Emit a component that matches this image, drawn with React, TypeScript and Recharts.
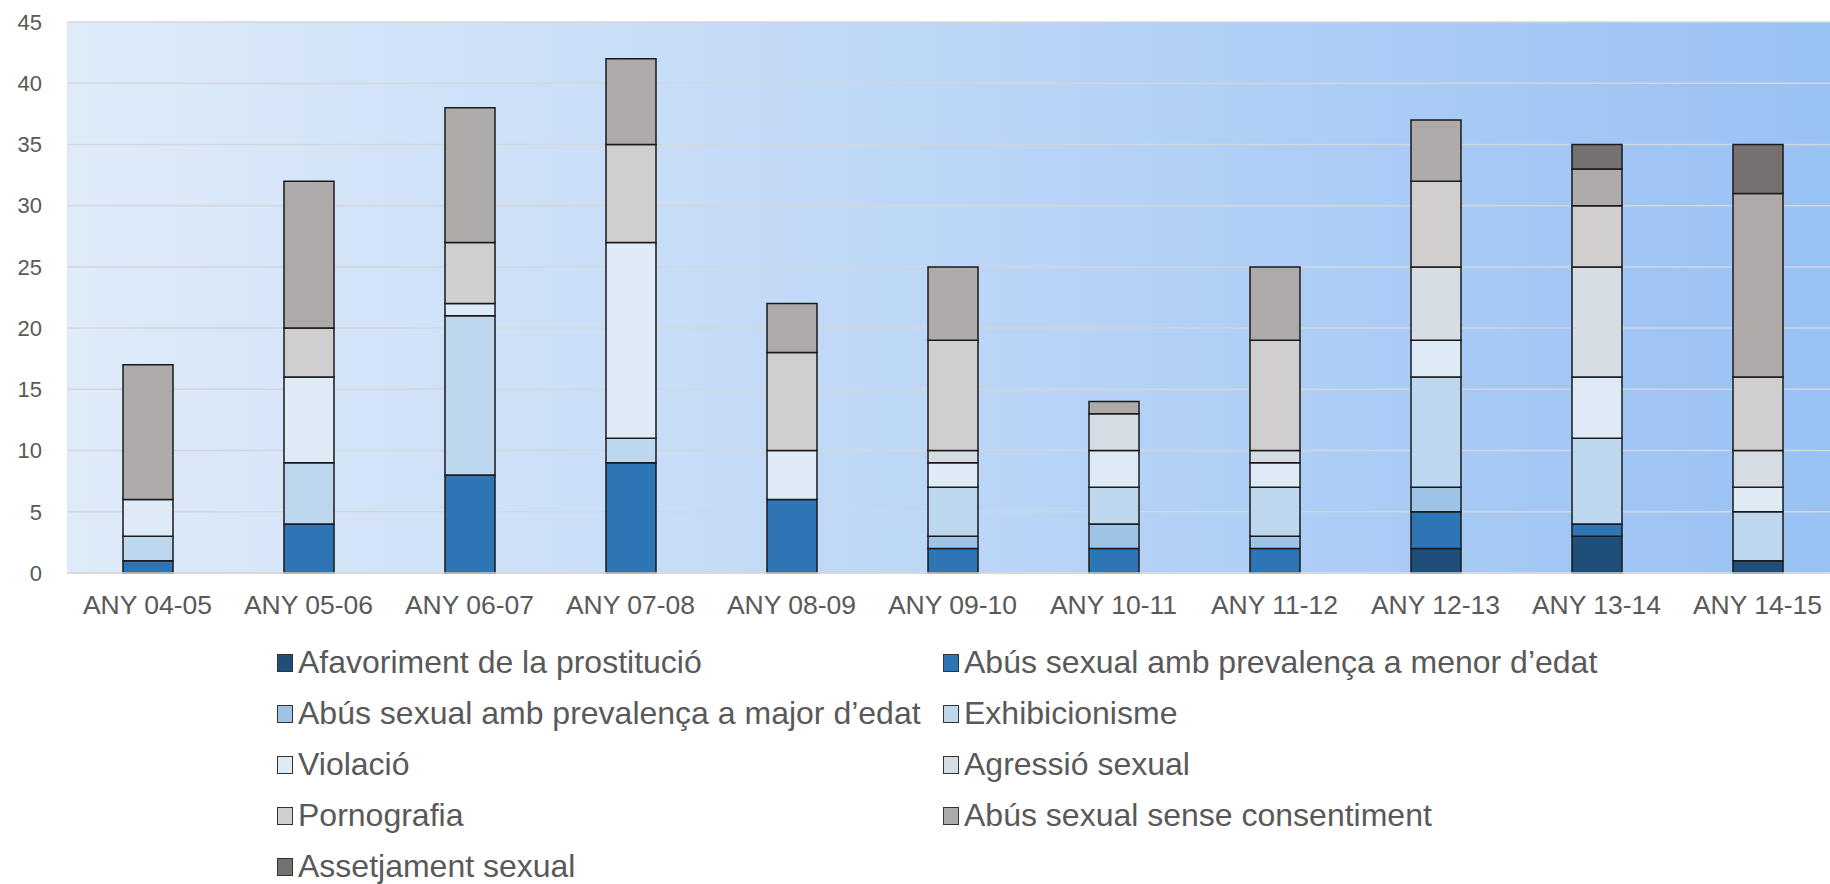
import React from 'react';
import { BarChart, Bar, XAxis, YAxis, CartesianGrid, Legend } from 'recharts';

const years = ['ANY 04-05', 'ANY 05-06', 'ANY 06-07', 'ANY 07-08', 'ANY 08-09', 'ANY 09-10', 'ANY 10-11', 'ANY 11-12', 'ANY 12-13', 'ANY 13-14', 'ANY 14-15'];

// one array per crime type, bottom of the stack first
const afavoriment = [0, 0, 0, 0, 0, 0, 0, 0, 2, 3, 1];
const abusMenor = [1, 4, 8, 9, 6, 2, 2, 2, 3, 1, 0];
const abusMajor = [0, 0, 0, 0, 0, 1, 2, 1, 2, 0, 0];
const exhibicionisme = [2, 5, 13, 2, 0, 4, 3, 4, 9, 7, 4];
const violacio = [3, 7, 1, 16, 4, 2, 3, 2, 3, 5, 2];
const agressio = [0, 0, 0, 0, 0, 1, 3, 1, 6, 9, 3];
const pornografia = [0, 4, 5, 8, 8, 9, 0, 9, 7, 5, 6];
const abusSense = [11, 12, 11, 7, 4, 6, 1, 6, 5, 3, 15];
const assetjament = [0, 0, 0, 0, 0, 0, 0, 0, 0, 2, 4];

const yTicks = [0, 5, 10, 15, 20, 25, 30, 35, 40, 45];

const series = [
    { key: 'afavoriment', name: 'Afavoriment de la prostitució', color: '#1F4E79', values: afavoriment },
    { key: 'abusMenor', name: 'Abús sexual amb prevalença a menor d’edat', color: '#2E75B6', values: abusMenor },
    { key: 'abusMajor', name: 'Abús sexual amb prevalença a major d’edat', color: '#9DC3E6', values: abusMajor },
    { key: 'exhibicionisme', name: 'Exhibicionisme', color: '#BDD7EE', values: exhibicionisme },
    { key: 'violacio', name: 'Violació', color: '#DEEBF7', values: violacio },
    { key: 'agressio', name: 'Agressió sexual', color: '#D6DCE4', values: agressio },
    { key: 'pornografia', name: 'Pornografia', color: '#D0CECE', values: pornografia },
    { key: 'abusSense', name: 'Abús sexual sense consentiment', color: '#AEAAAA', values: abusSense },
    { key: 'assetjament', name: 'Assetjament sexual', color: '#767171', values: assetjament },
];

const data = years.map((name, i) => {
    const row: Record<string, string | number> = { name };
    series.forEach((s) => {
        row[s.key] = s.values[i];
    });
    return row;
});

const font = '"Liberation Sans", Arial, sans-serif';

const renderLegend = () => (
    <div
        style={{
            display: 'grid',
            gridTemplateColumns: '666px 800px',
            paddingLeft: 277,
            fontFamily: font,
            fontSize: 32,
            color: '#595959',
        }}
    >
        {series.map((s) => (
            <div key={s.key} style={{ display: 'flex', alignItems: 'center', height: 51, whiteSpace: 'nowrap' }}>
                <span
                    style={{
                        display: 'inline-block',
                        flexShrink: 0,
                        width: 14,
                        height: 16,
                        background: s.color,
                        border: '1.5px solid #333',
                        marginRight: 5,
                    }}
                />
                {s.name}
            </div>
        ))}
    </div>
);

const App = () => {
    return (
        <div style={{ position: 'absolute', top: 0, left: 0, width: 1830, height: 884, overflow: 'hidden', background: '#fff' }}>
            <BarChart
                width={1840}
                height={884}
                data={data}
                margin={{ top: 22, right: 2, left: 0, bottom: 281 }}
                barSize={50}
            >
                <defs>
                    <linearGradient id="bgGrad" x1="0" y1="0" x2="1" y2="0">
                        <stop offset="0%" stopColor="#DFEBF9" />
                        <stop offset="100%" stopColor="#98C1F4" />
                    </linearGradient>
                </defs>
                <CartesianGrid vertical={false} stroke="#D3D6DA" strokeWidth={1.5} fill="url(#bgGrad)" />
                <XAxis
                    dataKey="name"
                    height={30}
                    axisLine={{ stroke: '#D9D9D9', strokeWidth: 1.5 }}
                    tickLine={false}
                    tickSize={0}
                    tickMargin={22}
                    interval={0}
                    tick={{ fill: '#595959', fontSize: 26.5, fontFamily: font }}
                />
                <YAxis
                    width={67}
                    domain={[0, 45]}
                    ticks={yTicks}
                    axisLine={false}
                    tickLine={false}
                    tickSize={0}
                    tickMargin={25}
                    tick={{ fill: '#595959', fontSize: 22, fontFamily: font }}
                />
                <Legend
                    layout="horizontal"
                    verticalAlign="middle"
                    align="center"
                    content={renderLegend}
                    wrapperStyle={{ top: 637, left: 0, width: 1830 }}
                />
                {series.map((s) => (
                    <Bar
                        key={s.key}
                        dataKey={s.key}
                        name={s.name}
                        stackId="a"
                        fill={s.color}
                        stroke="#1a1a1a"
                        strokeWidth={1.5}
                        isAnimationActive={false}
                    />
                ))}
            </BarChart>
        </div>
    );
};

export default App;
